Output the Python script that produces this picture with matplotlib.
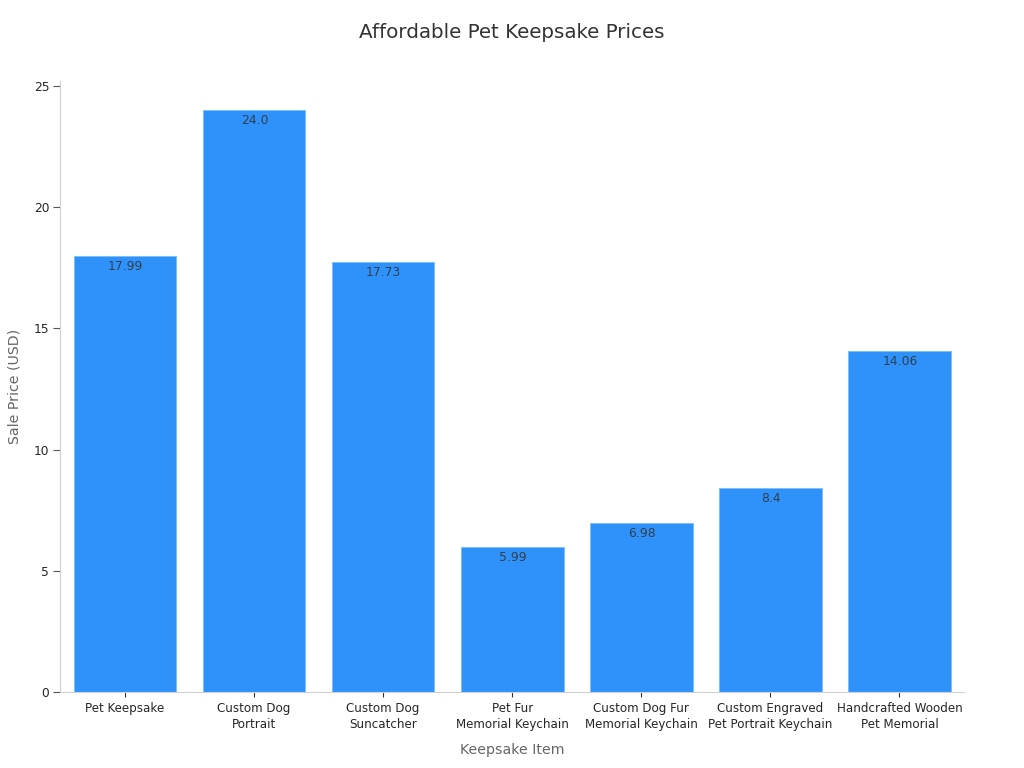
import matplotlib
matplotlib.use('Agg')
import matplotlib.pyplot as plt

# Values
items = ['Pet Keepsake', 'Custom Dog\nPortrait', 'Custom Dog\nSuncatcher', 'Pet Fur\nMemorial Keychain',
         'Custom Dog Fur\nMemorial Keychain', 'Custom Engraved\nPet Portrait Keychain', 'Handcrafted Wooden\nPet Memorial']
prices = [17.99, 24.0, 17.73, 5.99, 6.98, 8.4, 14.06]
yticks = [0, 5, 10, 15, 20, 25]

plt.rcParams['font.family'] = 'DejaVu Sans'

fig = plt.figure(figsize=(10.24, 7.68), dpi=100)
ax = fig.add_axes([60.4 / 1024, 1 - 692 / 768, (964 - 60.4) / 1024, (692 - 81) / 768])

bars = ax.bar(items, prices, width=0.795, color='#2e92fa', edgecolor='#7cc0fb', linewidth=0.7)
ax.set_xlim(-0.5, 6.5)
ax.set_ylim(0, 25.2)
ax.set_yticks(yticks)

for bar, price in zip(bars, prices):
    ax.annotate(str(price), (bar.get_x() + bar.get_width() / 2, price), xytext=(0.3, -3),
                textcoords='offset points', ha='center', va='top', fontsize=8.9, color='#333f4d')

ax.spines['top'].set_visible(False)
ax.spines['right'].set_visible(False)
ax.spines['left'].set_color('#d0d0d0')
ax.spines['bottom'].set_color('#d0d0d0')
ax.tick_params(axis='x', labelsize=8.6, length=3.5, width=0.8, color='#333333', labelcolor='#262626', pad=4)
ax.tick_params(axis='y', labelsize=8.8, length=5, width=0.8, color='#555555', labelcolor='#262626', pad=3)
for label in ax.get_xticklabels():
    label.set_linespacing(1.3)

ax.set_xlabel('Keepsake Item', fontsize=10.2, color='#666666', labelpad=8)
ax.set_ylabel('Sale Price (USD)', fontsize=10.2, color='#666666', labelpad=9)
fig.text(512 / 1024, 1 - 33 / 768, 'Affordable Pet Keepsake Prices', ha='center', va='center', fontsize=14.35, color='#333333')

fig.savefig('out.png', dpi=100)
